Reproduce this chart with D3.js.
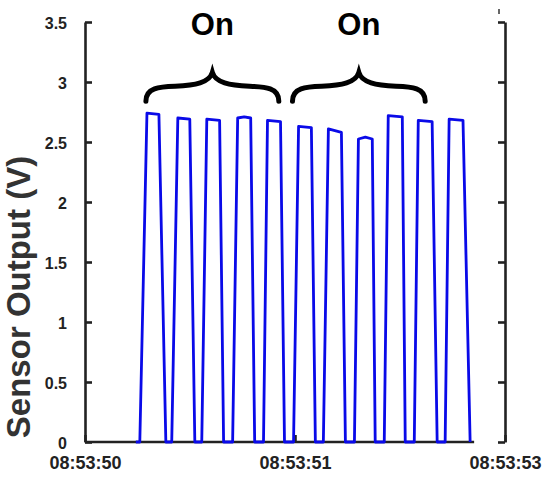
<!DOCTYPE html>
<html>
<head>
<meta charset="utf-8">
<script src="https://cdn.jsdelivr.net/npm/d3@7"></script>
<style>
    body { margin: 0; background: #fff; }
    text { font-family: "Liberation Sans", Arial, sans-serif; font-weight: bold; }
</style>
</head>
<body>
<div class="graph__canvas"></div>
<script>
//Time of each sample, seconds after 08:53:50
var times = [
    0.242,
    0.261, 0.295, 0.352, 0.385,
    0.413, 0.442, 0.499, 0.523,
    0.556, 0.580, 0.641, 0.660,
    0.703, 0.727, 0.758, 0.789, 0.808,
    0.850, 0.869, 0.931, 0.950,
    0.993, 1.017, 1.078, 1.097,
    1.135, 1.159, 1.221, 1.240,
    1.283, 1.302, 1.335, 1.368, 1.382,
    1.425, 1.444, 1.511, 1.525,
    1.568, 1.587, 1.653, 1.677,
    1.715, 1.734, 1.800, 1.834
];

//Sensor output (V) at each sample
var volts = [
    0,
    0, 2.74, 2.73, 0,
    0, 2.70, 2.69, 0,
    0, 2.69, 2.68, 0,
    0, 2.70, 2.71, 2.70, 0,
    0, 2.68, 2.67, 0,
    0, 2.63, 2.62, 0,
    0, 2.61, 2.58, 0,
    0, 2.525, 2.54, 2.525, 0,
    0, 2.72, 2.71, 0,
    0, 2.68, 2.67, 0,
    0, 2.69, 2.68, 0
];

//Axis ticks
var yTicks = [0, 0.5, 1, 1.5, 2, 2.5, 3, 3.5];
var xTicks = [0, 1, 2];
var xTickLabels = ["08:53:50", "08:53:51", "08:53:53"];

//"On" groups: start and end time of each brace
var braceStarts = [0.29, 0.988];
var braceEnds = [0.923, 1.62];
var braceLabels = ["On", "On"];

var configuration = {
    width: 550,
    height: 478,
    left: 85,
    top: 22,
    right: 505,
    bottom: 442
};

var svg = d3.select(".graph__canvas")
    .append("svg")
        .attr("width", configuration.width)
        .attr("height", configuration.height)
        .style("background-color", "#FFF");

//Create x and y scale
var scaleX = d3.scaleLinear()
    .domain([0, 2])
    .range([configuration.left, configuration.right]);

var scaleY = d3.scaleLinear()
    .domain([0, 3.5])
    .range([configuration.bottom, configuration.top]);

//Left axis, ticks pointing inwards
var leftAxis = svg.append("g")
    .attr("transform", `translate(${configuration.left}, 0)`)
    .call(d3.axisLeft(scaleY)
        .tickValues(yTicks)
        .tickFormat(d3.format("~g"))
        .tickSizeInner(-7)
        .tickSizeOuter(0)
        .tickPadding(18));

leftAxis.selectAll("text")
    .attr("font-size", 16)
    .attr("dy", "0.4em")
    .attr("fill", "#222");

//Right axis, ticks only
var rightAxis = svg.append("g")
    .attr("transform", `translate(${configuration.right}, 0)`)
    .call(d3.axisRight(scaleY)
        .tickValues(yTicks)
        .tickFormat("")
        .tickSizeInner(-7)
        .tickSizeOuter(0));

//Bottom axis, ticks pointing up
var bottomAxis = svg.append("g")
    .attr("transform", `translate(0, ${configuration.bottom})`)
    .call(d3.axisBottom(scaleX)
        .tickValues(xTicks)
        .tickFormat(function(d, i) { return xTickLabels[i]; })
        .tickSizeInner(-7)
        .tickSizeOuter(0)
        .tickPadding(14));

//The baseline stops short of the right axis
bottomAxis.select(".domain").remove();
bottomAxis.append("line")
    .attr("x1", scaleX(0))
    .attr("x2", scaleX(1.853))
    .attr("stroke", "#222");

bottomAxis.selectAll("text")
    .attr("font-size", 18)
    .attr("fill", "#222");

//Style all axes
svg.selectAll(".domain, .tick line, g > line")
    .attr("stroke", "#222")
    .attr("stroke-width", 2.6);

//Small stray mark above the right axis
svg.append("line")
    .attr("x1", scaleX(2) - 6)
    .attr("x2", scaleX(2) - 6)
    .attr("y1", 9)
    .attr("y2", 14)
    .attr("stroke", "#333")
    .attr("stroke-width", 1.5);

//Sensor trace
var line = d3.line()
    .x(function(d) { return scaleX(d[0]); })
    .y(function(d) { return scaleY(d[1]); });

svg.append("path")
    .datum(d3.zip(times, volts))
    .attr("d", line)
    .attr("fill", "none")
    .attr("stroke", "#0a0ae8")
    .attr("stroke-width", 2.8)
    .attr("stroke-linejoin", "round");

//Curly braces and labels
function bracePath(x0, x1, yEnd, yMid, yTip) {
    var w = x1 - x0;
    var xm = (x0 + x1) / 2;
    return `M ${x0},${yEnd}` +
        ` C ${x0},${yMid + 1} ${x0 + w * 0.1},${yMid} ${x0 + w * 0.22},${yMid - 0.5}` +
        ` C ${x0 + w * 0.37},${yMid - 1.5} ${xm - 3},${yMid - 4} ${xm},${yTip}` +
        ` C ${xm + 3},${yMid - 4} ${x1 - w * 0.37},${yMid - 1.5} ${x1 - w * 0.22},${yMid - 0.5}` +
        ` C ${x1 - w * 0.1},${yMid} ${x1},${yMid + 1} ${x1},${yEnd}`;
}

braceStarts.forEach(function(start, i) {
    var x0 = scaleX(start);
    var x1 = scaleX(braceEnds[i]);
    svg.append("path")
        .attr("d", bracePath(x0, x1, scaleY(2.84), scaleY(2.96), scaleY(3.08)))
        .attr("fill", "none")
        .attr("stroke", "#000")
        .attr("stroke-width", 5)
        .attr("stroke-linecap", "round");

    svg.append("text")
        .attr("x", (x0 + x1) / 2)
        .attr("y", scaleY(3.39))
        .attr("text-anchor", "middle")
        .attr("font-size", 31)
        .attr("fill", "#000")
        .text(braceLabels[i]);
});

//Y axis title
svg.append("text")
    .attr("transform", "translate(30, 297) rotate(-90)")
    .attr("text-anchor", "middle")
    .attr("font-size", 33)
    .attr("fill", "#333")
    .text("Sensor Output (V)");
</script>
</body>
</html>
